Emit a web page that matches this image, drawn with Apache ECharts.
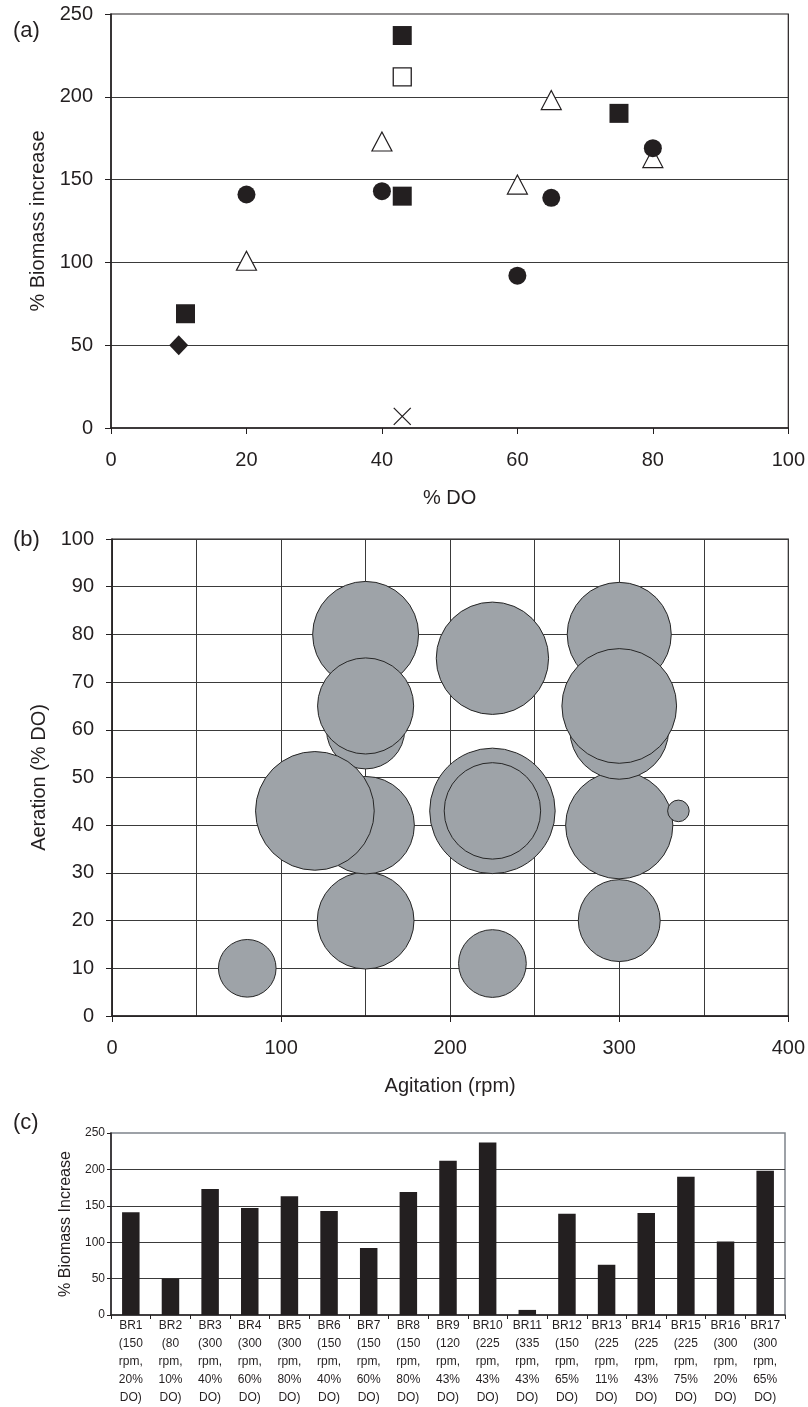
<!DOCTYPE html>
<html><head><meta charset="utf-8">
<script src="https://cdn.jsdelivr.net/npm/echarts@6/dist/echarts.min.js"></script>
<style>html,body{margin:0;padding:0;background:#fff}#c{width:808px;height:1407px}</style>
</head><body><div id="c"></div>
<script>
// ---- data ----
const runs = ['BR1','BR2','BR3','BR4','BR5','BR6','BR7','BR8','BR9','BR10','BR11','BR12','BR13','BR14','BR15','BR16','BR17'];
const agitationRpm = [150, 80, 300, 300, 300, 150, 150, 150, 120, 225, 335, 150, 225, 225, 225, 300, 300];
const dissolvedO2 = [20, 10, 40, 60, 80, 40, 60, 80, 43, 43, 43, 65, 11, 43, 75, 20, 65];
const biomassIncrease = [141, 50, 173, 147, 163, 143, 92, 169, 212, 237, 7, 139, 69, 140, 190, 101, 198];

// ---- styles ----
const INK = '#231f20';
const GRID = '#3a3a3a';
const FONT = "'Liberation Sans', Arial, sans-serif";
const NARROW = "'Liberation Sans Narrow', 'Liberation Sans', Arial, sans-serif";
const markerByRpm = {
  300: {symbol: 'triangle', size: [20, 19], color: '#fff', border: INK, bw: 1.2},
  120: {symbol: 'rect', size: 18, color: '#fff', border: INK, bw: 1.3},
  225: {symbol: 'rect', size: 19, color: INK, border: INK, bw: 0},
  80:  {symbol: 'diamond', size: [19, 20], color: INK, border: INK, bw: 0},
  335: {symbol: 'path://M0,0L10,10M10,0L0,10', size: 17, color: 'none', border: INK, bw: 1.3},
  150: {symbol: 'circle', size: 18, color: INK, border: INK, bw: 0}
};
const drawOrder = [300, 120, 225, 80, 335, 150];

const scatterSeries = drawOrder.map(rpm => {
  const m = markerByRpm[rpm];
  const pts = [];
  agitationRpm.forEach((a, i) => { if (a === rpm) pts.push([dissolvedO2[i], biomassIncrease[i]]); });
  return {
    type: 'scatter', xAxisIndex: 0, yAxisIndex: 0, data: pts,
    symbol: m.symbol, symbolSize: m.size, symbolKeepAspect: false,
    itemStyle: {color: m.color, borderColor: m.border, borderWidth: m.bw, opacity: 1},
    emphasis: {disabled: true}, z: 3
  };
});

const bubbleData = runs.map((r, i) => [agitationRpm[i], dissolvedO2[i], biomassIncrease[i]]);
const barLabels = runs.map((r, i) => `${r}\n(${agitationRpm[i]}\nrpm,\n${dissolvedO2[i]}%\nDO)`);

const axisLineDark = {show: true, lineStyle: {color: INK, width: 1.5}};
const tickOut = {show: true, inside: false, length: 6, lineStyle: {color: INK, width: 1}};
const lbl20 = {fontSize: 20, color: INK, fontFamily: FONT};

const option = {
  animation: false,
  backgroundColor: '#fff',
  textStyle: {fontFamily: FONT},
  graphic: [
    {type: 'text', left: 13, top: 20, style: {text: '(a)', fontSize: 22, fill: INK, fontFamily: FONT}},
    {type: 'text', left: 13, top: 529, style: {text: '(b)', fontSize: 22, fill: INK, fontFamily: FONT}},
    {type: 'text', left: 13, top: 1112, style: {text: '(c)', fontSize: 22, fill: INK, fontFamily: FONT}}
  ],
  grid: [
    {left: 111, top: 14, width: 678, height: 414, show: true, borderColor: INK, borderWidth: 1.2, backgroundColor: '#fff'},
    {left: 112, top: 539, width: 677, height: 477, show: true, borderColor: INK, borderWidth: 1.2, backgroundColor: '#fff'},
    {left: 111, top: 1133, width: 674, height: 184, show: true, borderColor: '#7d838a', borderWidth: 1.5, backgroundColor: '#fff'}
  ],
  xAxis: [
    {gridIndex: 0, type: 'value', min: 0, max: 100, interval: 20,
     axisLine: axisLineDark, axisTick: tickOut, splitLine: {show: false},
     axisLabel: Object.assign({margin: 22}, lbl20),
     name: '% DO', nameLocation: 'middle', nameGap: 60,
     nameTextStyle: {fontSize: 20, color: INK, fontFamily: FONT}},
    {gridIndex: 1, type: 'value', min: 0, max: 400, interval: 100,
     axisLine: axisLineDark, axisTick: tickOut,
     splitLine: {show: true, lineStyle: {color: GRID, width: 1}},
     minorTick: {show: false, splitNumber: 2},
     minorSplitLine: {show: true, lineStyle: {color: GRID, width: 1}},
     axisLabel: Object.assign({margin: 22}, lbl20),
     name: 'Agitation (rpm)', nameLocation: 'middle', nameGap: 60,
     nameTextStyle: {fontSize: 20, color: INK, fontFamily: FONT}},
    {gridIndex: 2, type: 'category', data: barLabels, boundaryGap: true,
     axisLine: axisLineDark,
     axisTick: {show: true, length: 4, lineStyle: {color: INK}},
     axisLabel: {interval: 0, margin: 2, fontSize: 12, lineHeight: 18, color: INK, fontFamily: NARROW, align: 'center'}}
  ],
  yAxis: [
    {gridIndex: 0, type: 'value', min: 0, max: 250, interval: 50,
     axisLine: axisLineDark, axisTick: tickOut,
     splitLine: {show: true, showMinLine: false, showMaxLine: false, lineStyle: {color: GRID, width: 1.2}},
     axisLabel: Object.assign({margin: 18}, lbl20),
     name: '% Biomass increase', nameLocation: 'middle', nameGap: 60, nameRotate: 90,
     nameTextStyle: {fontSize: 20, color: INK, fontFamily: FONT}},
    {gridIndex: 1, type: 'value', min: 0, max: 100, interval: 10,
     axisLine: axisLineDark, axisTick: tickOut,
     splitLine: {show: true, lineStyle: {color: GRID, width: 1.2}},
     axisLabel: Object.assign({margin: 18}, lbl20),
     name: 'Aeration (% DO)', nameLocation: 'middle', nameGap: 60, nameRotate: 90,
     nameTextStyle: {fontSize: 20, color: INK, fontFamily: FONT}},
    {gridIndex: 2, type: 'value', min: 0, max: 250, interval: 50,
     axisLine: axisLineDark,
     axisTick: {show: true, length: 4, lineStyle: {color: INK}},
     splitLine: {show: true, showMinLine: false, showMaxLine: false, lineStyle: {color: GRID, width: 1.2}},
     axisLabel: {margin: 6, fontSize: 12, color: INK, fontFamily: NARROW},
     name: '% Biomass Increase', nameLocation: 'middle', nameGap: 36, nameRotate: 90,
     nameTextStyle: {fontSize: 16, color: INK, fontFamily: FONT}}
  ],
  series: scatterSeries.concat([
    {type: 'scatter', xAxisIndex: 1, yAxisIndex: 1, data: bubbleData,
     symbol: 'circle', symbolSize: v => 8.15 * Math.sqrt(v[2]),
     itemStyle: {color: '#9ea3a8', borderColor: '#262626', borderWidth: 1, opacity: 1},
     emphasis: {disabled: true}, z: 3},
    {type: 'bar', xAxisIndex: 2, yAxisIndex: 2, data: biomassIncrease, barWidth: 17.5,
     itemStyle: {color: INK}, emphasis: {disabled: true}, z: 3}
  ])
};

const chart = echarts.init(document.getElementById('c'), null, {renderer: 'canvas'});
chart.setOption(option);
</script>
</body></html>
